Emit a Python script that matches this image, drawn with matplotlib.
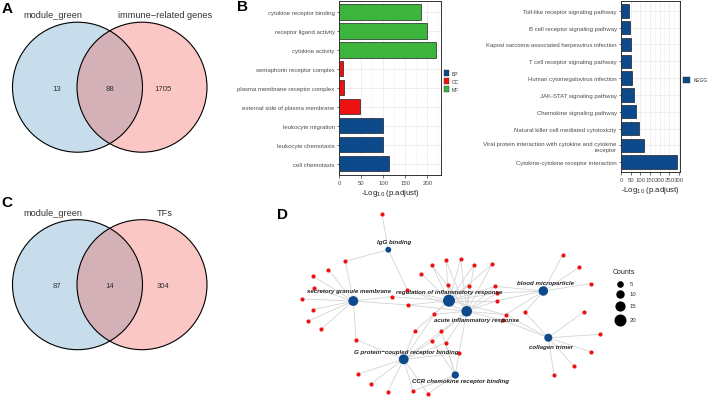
import matplotlib
matplotlib.use("Agg")
import matplotlib.pyplot as plt
from matplotlib.patches import Circle

plt.rcParams['font.family'] = ['Liberation Sans', 'DejaVu Sans']

# --- panel A / C venn counts ---
venn_a_labels = ["module_green", "immune\u2212related genes"]
venn_a_counts = [13, 88, 1705]
venn_c_labels = ["module_green", "TFs"]
venn_c_counts = [87, 14, 304]

# --- panel B: GO enrichment (bottom -> top) ---
go_terms = ["cell chemotaxis", "leukocyte chemotaxis", "leukocyte migration",
            "external side of plasma membrane", "plasma membrane receptor complex",
            "semaphorin receptor complex", "cytokine activity",
            "receptor ligand activity", "cytokine receptor binding"]
go_vals = [113, 99, 98, 46.5, 10, 9, 219, 200, 185]
go_cat = ["BP", "BP", "BP", "CC", "CC", "CC", "MF", "MF", "MF"]
cat_col = {"BP": "#0D4A8C", "CC": "#EE1111", "MF": "#3DB53D"}

# --- panel B right: KEGG (bottom -> top) ---
kegg_terms = ["Cytokine-cytokine receptor interaction",
              "Viral protein interaction with cytokine and cytokine\nreceptor",
              "Natural killer cell mediated cytotoxicity",
              "Chemokine signaling pathway", "JAK-STAT signaling pathway",
              "Human cytomegalovirus infection", "T cell receptor signaling pathway",
              "Kaposi sarcoma-associated herpesvirus infection",
              "B cell receptor signaling pathway", "Toll-like receptor signaling pathway"]
kegg_vals = [291, 116, 91, 79, 68, 54, 52, 50, 46, 41]

# --- panel D: cnet plot ---
term_names = ["IgG binding", "secretory granule membrane",
              "regulation of inflammatory response", "acute inflammatory response",
              "blood microparticle", "collagen trimer",
              "G protein\u2212coupled receptor binding", "CCR chemokine receptor binding"]
term_counts = [3, 14, 20, 16, 13, 9, 14, 7]
term_x = [388.3, 353.3, 449.0, 466.7, 543.3, 548.3, 403.7, 455.3]
term_y = [250.7, 302.0, 301.7, 312.3, 292.0, 338.7, 360.3, 376.0]
# label anchor (text centre) for each term
term_lx = [394.3, 349.3, 449.3, 476.7, 545.3, 551.0, 406.7, 460.0]
term_ly = [242.7, 291.7, 292.7, 321.0, 284.0, 347.3, 352.3, 381.7]

gene_x = [382, 345.3, 328.3, 313.3, 314.3, 301.7, 313, 307.7, 321.3, 391.7,
          407.7, 356, 431.7, 446, 460.7, 474, 492, 421.3, 448, 468.7,
          494.7, 497.3, 497, 434.3, 505.7, 525, 502.7, 414.7, 441.3, 432,
          445.7, 459, 358, 371, 387.7, 413, 428, 562.7, 579.3, 590.7,
          584, 600.3, 590.7, 573.7, 554, 407.3]
gene_y = [215, 262.3, 270.7, 277.3, 289.3, 300, 310.7, 322.3, 330, 297.7,
          306, 340.7, 265.7, 261.3, 260.3, 266, 265.3, 274.7, 286, 286.7,
          287.3, 294, 301.7, 315.3, 315.7, 313.3, 321.3, 332, 332.3, 342.3,
          344, 354.3, 375, 384.7, 392.7, 392, 394.7, 256, 268.3, 284.7,
          312.7, 335.3, 353, 367, 375.7, 291]
gene_links = [[0], [0, 1], [1], [1], [1], [1], [1], [1], [1], [1, 2],
              [1, 2, 3], [1, 6], [2, 3], [2, 3], [2, 3], [2, 3], [2, 3], [2], [2, 3], [2, 3],
              [2, 3, 4], [2, 3, 4], [2, 3, 4], [2, 3, 6], [2, 3, 4, 5], [4, 5], [3, 5], [2, 6], [3, 6, 7], [3, 6, 7],
              [3, 6, 7], [3, 6, 7], [6], [6], [6], [6, 7], [6, 7], [4], [4], [4],
              [5], [5], [5], [5], [5], [0, 2, 3]]
legend_counts = [5, 10, 15, 20]

W, H = 708, 402
fig = plt.figure(figsize=(W / 100, H / 100), dpi=100)
ov = fig.add_axes([0, 0, 1, 1])
ov.set_xlim(0, W); ov.set_ylim(H, 0); ov.axis("off")


def venn(ax, cy, labels, counts):
    ax.add_patch(Circle((77.5, cy), 65, fc="#4B91C0", alpha=0.3, ec="none"))
    ax.add_patch(Circle((142, cy), 65, fc="#F24841", alpha=0.3, ec="none"))
    for cx in (77.5, 142):
        ax.add_patch(Circle((cx, cy), 65, fc="none", ec="black", lw=0.8))
    for x, c in zip([56.7, 109.7, 163.3], counts):
        ax.text(x, cy + 1, str(c), ha="center", va="center", fontsize=5.6, color="#333333")
    ax.text(53.3, cy - 72.5, labels[0], ha="center", va="center", fontsize=6.6, color="#333333")
    ax.text(165, cy - 72.5, labels[1], ha="center", va="center", fontsize=6.6, color="#333333")


venn(ov, 88.2, venn_a_labels, venn_a_counts)
venn(ov, 285.7, venn_c_labels, venn_c_counts)

for lab, x, y in [("A", 7, 9), ("B", 242, 7), ("C", 7, 203), ("D", 283, 215)]:
    ov.text(x, y, lab, fontsize=11, fontweight="bold", ha="center", va="center")


def style_bar(ax, n, xmax, major, minor):
    ax.set_xlim(0, xmax)
    ax.set_ylim(-0.6, n - 0.4)
    ax.set_xticks(major)
    ax.set_xticks(minor, minor=True)
    ax.set_yticks(range(n))
    ax.grid(True, which="major", color="#EBEBEB", lw=0.6)
    ax.grid(True, which="minor", axis="x", color="#F4F4F4", lw=0.4)
    ax.set_axisbelow(True)
    for s in ax.spines.values():
        s.set_color("#333333"); s.set_linewidth(0.7)
    ax.tick_params(length=1.8, width=0.5, color="#333333", labelsize=4.3,
                   labelcolor="#4D4D4D", pad=1.5)
    ax.tick_params(which="minor", length=0)
    ax.set_xlabel("-Log$_{10}$ (p.adjust)", fontsize=5.6, color="#222222", labelpad=1.5)


# panel B GO
axb = fig.add_axes([339.3 / W, 1 - 176 / H, 101.4 / W, 174.3 / H])
yb = list(range(len(go_terms)))
axb.barh(yb, go_vals, height=0.8, color=[cat_col[c] for c in go_cat],
         edgecolor="#222222", linewidth=0.5)
style_bar(axb, len(go_terms), 230, [0, 50, 100, 150, 200], [25, 75, 125, 175, 225])
axb.set_yticklabels(go_terms)
for i, c in enumerate(["BP", "CC", "MF"]):
    yy = 74 + i * 8
    ov.add_patch(plt.Rectangle((443.5, yy - 3.3), 5.5, 6.6, fc=cat_col[c], ec="#333333", lw=0.3))
    ov.text(452, yy, c, fontsize=3.6, va="center", color="#333333")

# panel B KEGG
axk = fig.add_axes([621.3 / W, 1 - 173.3 / H, 58.7 / W, 171.6 / H])
yk = list(range(len(kegg_terms)))
axk.barh(yk, kegg_vals, height=0.8, color=cat_col["BP"], edgecolor="#222222", linewidth=0.5)
style_bar(axk, len(kegg_terms), 306, [0, 50, 100, 150, 200, 250, 300],
          [25, 75, 125, 175, 225, 275])
axk.set_yticklabels(kegg_terms)
ov.add_patch(plt.Rectangle((683, 77.7), 7, 6.6, fc=cat_col["BP"], ec="#333333", lw=0.3))
ov.text(694, 81, "KEGG", fontsize=3.6, va="center", color="#333333")

# panel D network
for gx, gy, links in zip(gene_x, gene_y, gene_links):
    for t in links:
        ov.plot([gx, term_x[t]], [gy, term_y[t]], color="#D4D4D4", lw=0.6, zorder=1)


def rad(c):
    return 2.4 + 0.18 * c


ov.scatter(gene_x, gene_y, s=9, color="#EE1111", zorder=3, linewidths=0)
ov.scatter(term_x, term_y, s=[(2 * rad(c) * 0.72) ** 2 for c in term_counts],
           color="#0D4A8C", zorder=3, linewidths=0)
for name, lx, ly in zip(term_names, term_lx, term_ly):
    ov.text(lx, ly, name, fontsize=4.4, fontstyle="italic", fontweight="bold",
            ha="center", va="center", color="#222222", zorder=4)

ov.text(624, 273, "Counts", fontsize=5, ha="center", va="center", color="#222222")
for i, c in enumerate(legend_counts):
    yy = [285, 294.5, 306.5, 320.5][i]
    ov.scatter([620], [yy], s=(2 * rad(c) * 0.72) ** 2, color="black", linewidths=0)
    ov.text(630, yy, str(c), fontsize=4.3, va="center", color="#333333")

fig.savefig("out.png", dpi=100)
